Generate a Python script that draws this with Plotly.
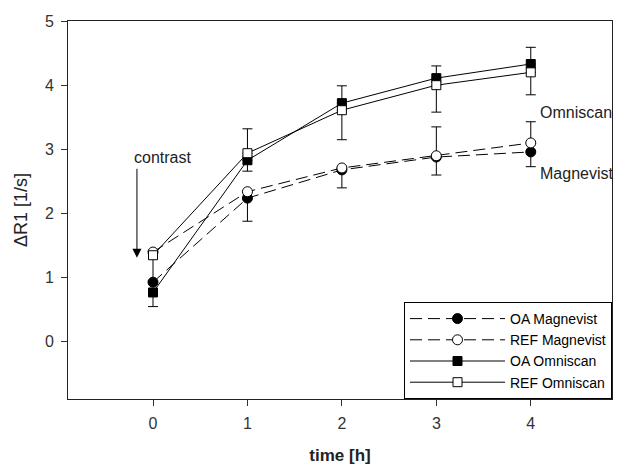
import plotly.graph_objects as go

time = [0, 1, 2, 3, 4]
oa_magnevist = [0.93, 2.24, 2.68, 2.88, 2.96]
ref_magnevist = [1.40, 2.34, 2.71, 2.90, 3.10]
oa_omniscan = [0.77, 2.83, 3.72, 4.11, 4.33]
ref_omniscan = [1.35, 2.94, 3.61, 4.00, 4.20]

oa_mag_minus = [0.0, 0.36, 0.28, 0.28, 0.23]
ref_mag_plus = [0.0, 0.0, 0.0, 0.45, 0.33]
oa_omn_plus = [0.0, 0.49, 0.27, 0.19, 0.26]
oa_omn_minus = [0.22, 0.0, 0.0, 0.0, 0.0]
ref_omn_minus = [0.40, 0.28, 0.46, 0.42, 0.35]
zeros = [0.0] * 5

FONT = "Liberation Sans, Arial, sans-serif"


def err(plus, minus):
    return dict(type="data", symmetric=False, array=plus, arrayminus=minus,
                color="black", thickness=1, width=5)


fig = go.Figure()
fig.add_trace(go.Scatter(
    x=time, y=oa_magnevist, name="OA Magnevist", mode="lines+markers",
    line=dict(color="black", width=1, dash="12px,6px"),
    marker=dict(symbol="circle", size=10, color="black", line=dict(color="black", width=1)),
    error_y=err(zeros, oa_mag_minus)))
fig.add_trace(go.Scatter(
    x=time, y=ref_magnevist, name="REF Magnevist", mode="lines+markers",
    line=dict(color="black", width=1, dash="12px,6px"),
    marker=dict(symbol="circle", size=10, color="white", line=dict(color="black", width=1)),
    error_y=err(ref_mag_plus, zeros)))
fig.add_trace(go.Scatter(
    x=time, y=oa_omniscan, name="OA Omniscan", mode="lines+markers",
    line=dict(color="black", width=1),
    marker=dict(symbol="square", size=9, color="black", line=dict(color="black", width=1)),
    error_y=err(oa_omn_plus, oa_omn_minus)))
fig.add_trace(go.Scatter(
    x=time, y=ref_omniscan, name="REF Omniscan", mode="lines+markers",
    line=dict(color="black", width=1),
    marker=dict(symbol="square", size=9, color="white", line=dict(color="black", width=1)),
    error_y=err(zeros, ref_omn_minus)))

# contrast arrow
fig.add_annotation(x=-0.17, y=1.31, ax=-0.17, ay=2.72, xref="x", yref="y",
                   axref="x", ayref="y", text="", showarrow=True,
                   arrowhead=2, arrowsize=1.8, arrowwidth=1, arrowcolor="black")
fig.add_annotation(x=0.1, y=2.88, xref="x", yref="y", text="contrast",
                   showarrow=False, font=dict(family=FONT, size=16, color="#222"))
fig.add_annotation(x=4.08, y=3.58, xref="x", yref="y", text="Omniscan",
                   showarrow=False, xanchor="left", font=dict(family=FONT, size=16, color="#222"))
fig.add_annotation(x=4.08, y=2.63, xref="x", yref="y", text="Magnevist",
                   showarrow=False, xanchor="left", font=dict(family=FONT, size=16, color="#222"))

fig.update_layout(
    width=617, height=469,
    margin=dict(l=68, r=5, t=21, b=70),
    paper_bgcolor="white", plot_bgcolor="white",
    font=dict(family=FONT, size=16, color="#333"),
    showlegend=True,
    legend=dict(x=1, y=0, xanchor="right", yanchor="bottom",
                bordercolor="black", borderwidth=1, bgcolor="white",
                font=dict(family=FONT, size=14, color="black"),
                itemwidth=95, tracegroupgap=0),
    xaxis=dict(range=[-0.9, 4.86], tickvals=time, ticks="outside", ticklen=6,
               tickcolor="#333", showgrid=False, zeroline=False, ticklabelstandoff=4,
               showline=True, linecolor="#222", linewidth=1, mirror=True,
               title=dict(text="<b>time [h]</b>", font=dict(family=FONT, size=17, color="#222"), standoff=17)),
    yaxis=dict(range=[-0.89, 5], tickvals=[0, 1, 2, 3, 4, 5], ticks="outside", ticklen=6,
               tickcolor="#333", showgrid=False, zeroline=False, ticklabelstandoff=4,
               showline=True, linecolor="#222", linewidth=1, mirror=True,
               title=dict(text="ΔR1 [1/s]", font=dict(family=FONT, size=18, color="#222"), standoff=12)),
)

fig.write_html("out.html")
